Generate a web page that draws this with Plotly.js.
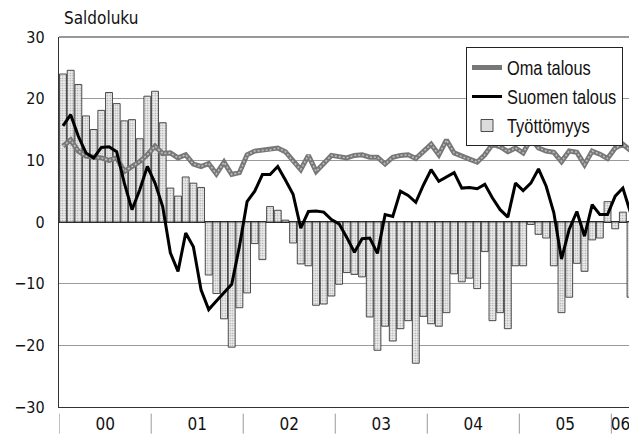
<!DOCTYPE html>
<html>
<head>
<meta charset="utf-8">
<script src="https://cdn.plot.ly/plotly-3.0.1.min.js"></script>
<style>
  html, body { margin: 0; padding: 0; background: #fff; }
  #chart { width: 629px; height: 435px; }
  /* narrow (Arial Narrow-like) legend text */
  .legendtext { transform-box: fill-box; transform-origin: 0 50%; transform: scaleX(0.82); }
</style>
</head>
<body>
<div id="chart"></div>
<script>
// Monthly data, January 2000 – March 2006
var startYear = 2000;
var yearLabels = ['00', '01', '02', '03', '04', '05', '06'];

var tyottomyys = [
  24.0, 24.6, 22.3, 17.2, 15.0, 18.1, 21.0, 19.2, 16.4, 16.6, 13.5, 20.4,
  21.2, 16.1, 5.5, 4.2, 7.3, 6.3, 5.6, -8.6, -11.6, -15.7, -20.3, -13.9,
  -11.5, -3.5, -6.1, 2.5, 1.9, 0.3, -3.4, -6.8, -7.1, -13.5, -13.3, -12.0,
  -10.1, -8.2, -8.5, -8.9, -15.4, -20.8, -16.9, -19.3, -17.3, -16.0, -22.9, -15.3,
  -16.5, -16.9, -14.7, -8.4, -9.7, -9.1, -10.8, -4.8, -16.0, -14.7, -17.3, -7.1,
  -7.1, -0.4, -2.0, -2.6, -7.1, -14.7, -12.2, -6.7, -8.0, -2.9, -2.6, 3.3,
  -1.1, 1.6, -12.2
];

var suomenTalous = [
  15.6, 17.4, 13.9, 11.2, 10.4, 12.1, 12.2, 11.4, 6.3, 2.0, 5.2, 9.0,
  6.3, 2.5, -5.0, -8.0, -1.8, -4.0, -11.0, -14.2, -12.8, -11.4, -10.1, -4.0,
  3.3, 5.0, 7.7, 7.7, 9.0, 6.8, 4.5, -1.0, 1.7, 1.8, 1.6, 0.4,
  -0.3, -2.5, -4.9, -2.7, -2.6, -5.1, 1.2, 0.9, 5.0, 4.3, 3.2, 6.0,
  8.5, 6.6, 7.3, 8.0, 5.5, 5.6, 5.4, 6.1, 3.9, 2.0, 0.8, 6.3,
  5.1, 6.3, 8.6, 5.8, 1.5, -6.0, -1.2, 1.7, -2.3, 2.8, 1.2, 1.2,
  4.2, 5.5, 1.5
];

var omaTalous = [
  12.3, 13.3, 11.5, 10.7, 10.5, 10.4, 10.0, 10.4, 8.2, 9.0, 9.8, 10.9,
  12.3, 11.1, 11.2, 10.4, 10.9, 9.4, 9.0, 9.5, 7.8, 9.7, 7.7, 8.0,
  10.9, 11.5, 11.6, 11.7, 12.0, 11.4, 9.8, 8.5, 10.8, 8.2, 9.5, 10.8,
  10.6, 10.4, 10.8, 10.9, 10.5, 10.5, 9.4, 10.5, 10.8, 10.9, 10.3, 11.4,
  12.6, 10.9, 13.3, 11.2, 10.6, 10.2, 9.7, 10.9, 12.6, 12.2, 11.4, 12.0,
  11.2, 13.5, 12.0, 11.5, 11.3, 9.8, 11.5, 11.3, 9.3, 11.5, 11.0, 10.3,
  12.0, 12.6, 11.6
];

var yTicks = [-30, -20, -10, 0, 10, 20, 30];

// month index positions and labels
var idx = [], monthNames = [];
for (var i = 0; i < tyottomyys.length; i++) {
  idx.push(i);
  var y = startYear + Math.floor(i / 12), m = (i % 12) + 1;
  monthNames.push(y + '-' + (m < 10 ? '0' + m : m));
}
// year boundaries and label positions
var boundaries = [], labelPos = [];
for (var k = 0; k < yearLabels.length; k++) {
  boundaries.push(12 * k - 0.5);
  labelPos.push(12 * k + 5.5);
}
labelPos[labelPos.length - 1] = 12 * (yearLabels.length - 1) + 0.7; // last (partial) year label

var FONT = '"DejaVu Sans Condensed", "DejaVu Sans", sans-serif';
var LEGEND_FONT = '"Liberation Sans", Arial, sans-serif';

var traces = [
  {
    type: 'bar', x: idx, y: tyottomyys, name: 'Työttömyys', legendrank: 3,
    hovertext: monthNames, hoverinfo: 'text+y',
    marker: {
      color: '#e6e6e6',
      line: { color: '#3a3a3a', width: 0.9 },
      pattern: { shape: '.', size: 2.5, solidity: 0.25, fgcolor: '#9c9c9c', bgcolor: '#ececec' }
    }
  },
  {
    type: 'scatter', mode: 'lines', x: idx, y: omaTalous, name: 'Oma talous', legendrank: 1,
    line: { color: '#777777', width: 5 }
  },
  {
    type: 'scatter', mode: 'lines', x: idx, y: omaTalous, showlegend: false, hoverinfo: 'skip',
    line: { color: '#bdbdbd', width: 1.6, dash: '2px,2px' }
  },
  {
    type: 'scatter', mode: 'lines', x: idx, y: suomenTalous, name: 'Suomen talous', legendrank: 2,
    line: { color: '#000000', width: 3 }
  }
];

var shapes = boundaries.map(function (b) {
  return { type: 'line', xref: 'x', yref: 'paper', x0: b, x1: b, y0: -0.018, y1: -0.072,
           line: { color: '#9a9a9a', width: 1 } };
});
shapes.push({ type: 'line', xref: 'paper', yref: 'paper', x0: 0, x1: 1, y0: 1, y1: 1,
              line: { color: '#333', width: 1.2 } });

var layout = {
  width: 629, height: 435,
  margin: { l: 59, r: 0, t: 37, b: 28, autoexpand: false },
  paper_bgcolor: '#fff', plot_bgcolor: '#fff',
  font: { family: FONT, color: '#111', size: 17 },
  bargap: 0.1,
  showlegend: true,
  legend: {
    xref: 'container', yref: 'container',
    x: 466 / 629, y: 1 - 47 / 435, xanchor: 'left', yanchor: 'top',
    bgcolor: '#fff', bordercolor: '#222', borderwidth: 1,
    font: { family: LEGEND_FONT, size: 20, color: '#111' },
    itemwidth: 30, tracegroupgap: 0
  },
  xaxis: {
    range: [-0.52, 73.8], fixedrange: true, automargin: false,
    tickmode: 'array', tickvals: labelPos, ticktext: yearLabels,
    ticks: '', showgrid: false, zeroline: false,
    showline: true, linecolor: '#333', linewidth: 1.2,
    tickfont: { family: FONT, size: 17, color: '#111' },
    ticklabelstandoff: 1, ticklabeloverflow: 'allow'
  },
  yaxis: {
    range: [-30, 30], fixedrange: true, automargin: false,
    tickmode: 'array', tickvals: yTicks,
    ticks: '', showgrid: true, gridcolor: '#9a9a9a', gridwidth: 1,
    zeroline: true, zerolinecolor: '#222', zerolinewidth: 1.2,
    showline: true, linecolor: '#333', linewidth: 1.2,
    tickfont: { family: FONT, size: 16, color: '#111' },
    ticklabelstandoff: 10
  },
  shapes: shapes,
  annotations: [{
    text: 'Saldoluku', xref: 'paper', yref: 'paper', x: 0.005, y: 1.05,
    xanchor: 'left', yanchor: 'middle', showarrow: false,
    font: { family: FONT, size: 17, color: '#111' }
  }]
};

Plotly.newPlot('chart', traces, layout, { displayModeBar: false, staticPlot: true });
</script>
</body>
</html>
